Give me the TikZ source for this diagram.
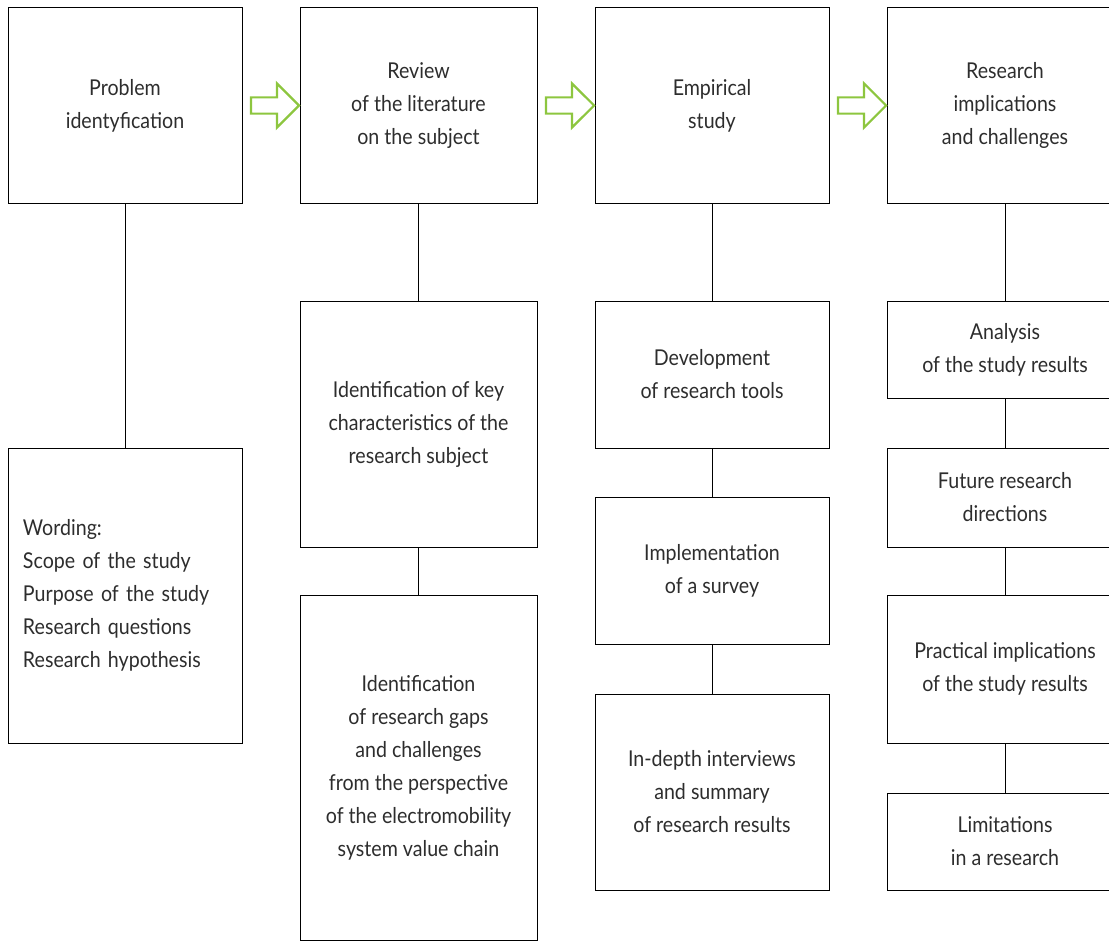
\documentclass[tikz,border=0pt]{standalone}
\usepackage{fontspec}
\setmainfont{Lato}[FakeStretch=0.9]
\usepackage{tikz}
\usetikzlibrary{shapes, arrows, calc}

\definecolor{arrowgreen}{RGB}{141,198,63}
\definecolor{textgray}{RGB}{45,45,45}

\tikzset{
	stagebox/.style={draw=black, line width=1pt, inner sep=0pt, align=center,
		text=textgray, font=\fontsize{21.8}{33}\selectfont},
	blockarrow/.style={single arrow, draw=arrowgreen, line width=2.2pt, fill=white,
		minimum height=48pt, inner xsep=0pt, inner ysep=7pt,
		single arrow head extend=14pt},
}

\begin{document}
\begin{tikzpicture}[x=1pt, y=-1pt]
\useasboundingbox (0,0) rectangle (1109,942);
% top row
\node[stagebox, minimum width=234pt, minimum height=195pt] (p1) at (125,105.5) {Problem\\identyfication};
\node[stagebox, minimum width=237pt, minimum height=195pt] (r1) at (418.5,105.5) {Review\\of the literature\\on the subject};
\node[stagebox, minimum width=234pt, minimum height=195pt] (e1) at (712,105.5) {Empirical\\study};
\node[stagebox, minimum width=236pt, minimum height=195pt] (i1) at (1005,105.5) {Research\\implications\\and challenges};
% column 1
\node[stagebox, minimum width=234pt, minimum height=295pt, text width=204pt, align=left] (p2) at (125,595.5) {Wording:\\Scope of the study\\Purpose of the study\\Research questions\\Research hypothesis};
% column 2
\node[stagebox, minimum width=237pt, minimum height=246pt] (r2) at (418.5,424) {Identification of key\\characteristics of the\\research subject};
\node[stagebox, minimum width=237pt, minimum height=345pt] (r3) at (418.5,767.5) {Identification\\of research gaps\\and challenges\\from the perspective\\of the electromobility\\system value chain};
% column 3
\node[stagebox, minimum width=234pt, minimum height=147pt] (e2) at (712,374.5) {Development\\of research tools};
\node[stagebox, minimum width=234pt, minimum height=147pt] (e3) at (712,570.5) {Implementation\\of a survey};
\node[stagebox, minimum width=234pt, minimum height=196pt] (e4) at (712,792) {In-depth interviews\\and summary\\of research results};
% column 4
\node[stagebox, minimum width=236pt, minimum height=97pt] (i2) at (1005,349.5) {Analysis\\of the study results};
\node[stagebox, minimum width=236pt, minimum height=99pt] (i3) at (1005,497.5) {Future research\\directions};
\node[stagebox, minimum width=236pt, minimum height=148pt] (i4) at (1005,669) {Practical implications\\of the study results};
\node[stagebox, minimum width=236pt, minimum height=97pt] (i5) at (1005,841.5) {Limitations\\in a research};
% vertical links
\foreach \a/\b in {p1/p2, r1/r2, r2/r3, e1/e2, e2/e3, e3/e4, i1/i2, i2/i3, i3/i4, i4/i5}{
	\draw[line width=1pt] (\a.south) -- (\b.north);
}
% green arrows
\foreach \a/\b in {p1/r1, r1/e1, e1/i1}{
	\node[blockarrow] (\a-\b) at ($(\a.east)!0.5!(\b.west)$) {};
}
\end{tikzpicture}
\end{document}
